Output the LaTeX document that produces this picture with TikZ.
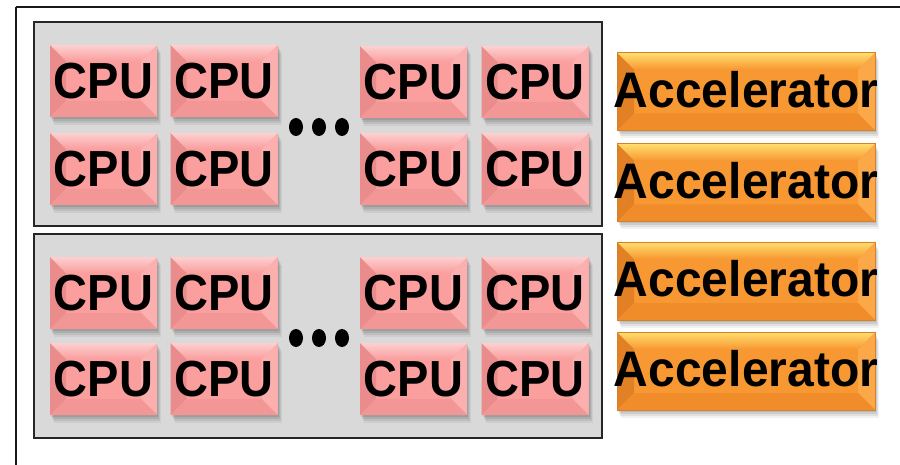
\documentclass[tikz,border=0pt]{standalone}
\usepackage{fontspec}
\setmainfont{Liberation Sans}
\usetikzlibrary{shadows,shapes.geometric}
\definecolor{cpumain}{RGB}{250,158,158}
\definecolor{cputop}{RGB}{253,208,208}
\definecolor{cpuleft}{RGB}{234,140,140}
\definecolor{cpuright}{RGB}{251,175,175}
\definecolor{cpubottom}{RGB}{242,150,150}
\definecolor{accmain}{RGB}{248,152,50}
\definecolor{acctop}{RGB}{255,222,110}
\definecolor{accleft}{RGB}{226,128,38}
\definecolor{accright}{RGB}{251,168,72}
\definecolor{accbottom}{RGB}{240,140,42}
\definecolor{boxgray}{RGB}{217,217,217}
\newcommand{\bevelpic}[6]{%
  \coordinate (pnw) at (path picture bounding box.north west);
  \coordinate (pne) at (path picture bounding box.north east);
  \coordinate (psw) at (path picture bounding box.south west);
  \coordinate (pse) at (path picture bounding box.south east);
  \fill[#3] (pnw) -- ([xshift=#6,yshift=-#6]pnw) -- ([xshift=#6,yshift=#6]psw) -- (psw) -- cycle;
  \fill[#4] (pne) -- ([xshift=-#6,yshift=-#6]pne) -- ([xshift=-#6,yshift=#6]pse) -- (pse) -- cycle;
  \fill[#5] (psw) -- ([xshift=#6,yshift=#6]psw) -- ([xshift=-#6,yshift=#6]pse) -- (pse) -- cycle;
  \shade[top color=#2, bottom color=#1] (pnw) -- (pne) -- ([xshift=-#6,yshift=-#6]pne) -- ([xshift=#6,yshift=-#6]pnw) -- cycle;
}
\newcommand{\cputext}{\scalebox{1}[1.08]{CPU}}
\newcommand{\acctext}{\raisebox{5pt}{\makebox[0pt]{\scalebox{1}[1.04]{Accelerator}}}}
\tikzset{
  boxshadow/.style={
    general shadow={fill=black, opacity=0.09, shadow xshift=1pt, shadow yshift=-2pt},
    general shadow={fill=black, opacity=0.09, shadow xshift=2pt, shadow yshift=-4pt},
    general shadow={fill=black, opacity=0.07, shadow xshift=3pt, shadow yshift=-6pt},
    general shadow={fill=black, opacity=0.05, shadow xshift=4pt, shadow yshift=-8pt}},
  cpu/.style={boxshadow, fill=cpumain, minimum width=107pt, minimum height=72pt, inner sep=0pt,
    font=\fontsize{47}{47}\selectfont\bfseries,
    path picture={\bevelpic{cpumain}{cputop}{cpuleft}{cpuright}{cpubottom}{16pt}}},
  acc/.style={boxshadow, fill=accmain, draw=accmain!85!black, line width=0.4pt, minimum width=258pt, minimum height=78pt, inner sep=0pt,
    font=\fontsize{48}{48}\selectfont\bfseries,
    path picture={\bevelpic{accmain}{acctop}{accleft}{accright}{accbottom}{17pt}}},
  group/.style={fill=boxgray, draw=black!85, line width=1.3pt, minimum width=568pt, minimum height=204pt, inner sep=0pt},
  dotnode/.style={ellipse, fill=black, minimum width=14pt, minimum height=18pt, inner sep=0pt},
}
\begin{document}
\begin{tikzpicture}[x=1pt,y=-1pt]
\useasboundingbox (0,0) rectangle (900,465);
\clip (0,0) rectangle (900,465);
\fill[white] (0,0) rectangle (900,465);
\draw[line width=2pt, black!90] (16,7) -- (920,7);
\draw[line width=2pt, black!90] (16,7) -- (16,480);
% containers
\node[group] (g1) at (318,124) {};
\node[group] (g2) at (318,336) {};
% CPUs top group
\node[cpu] (c11) at (103.5,81) {\cputext};
\node[cpu] (c12) at (224,81) {\cputext};
\node[cpu] (c13) at (413.5,82) {\cputext};
\node[cpu] (c14) at (535,82) {\cputext};
\node[cpu] (c21) at (103.5,169) {\cputext};
\node[cpu] (c22) at (224,169) {\cputext};
\node[cpu] (c23) at (413.5,169) {\cputext};
\node[cpu] (c24) at (535,169) {\cputext};
% CPUs bottom group
\node[cpu] (c31) at (103.5,293) {\cputext};
\node[cpu] (c32) at (224,293) {\cputext};
\node[cpu] (c33) at (413.5,293) {\cputext};
\node[cpu] (c34) at (535,293) {\cputext};
\node[cpu] (c41) at (103.5,379) {\cputext};
\node[cpu] (c42) at (224,379) {\cputext};
\node[cpu] (c43) at (413.5,379) {\cputext};
\node[cpu] (c44) at (535,379) {\cputext};
% dots
\node[dotnode] (d1) at (296,127) {};
\node[dotnode] (d2) at (319,127) {};
\node[dotnode] (d3) at (342,127) {};
\node[dotnode] (d4) at (296,338) {};
\node[dotnode] (d5) at (319,338) {};
\node[dotnode] (d6) at (342,338) {};
% accelerators
\node[acc] (a1) at (746,91.5) {\acctext};
\node[acc] (a2) at (746,182.5) {\acctext};
\node[acc] (a3) at (746,281) {\acctext};
\node[acc] (a4) at (746,371) {\acctext};
\end{tikzpicture}
\end{document}
